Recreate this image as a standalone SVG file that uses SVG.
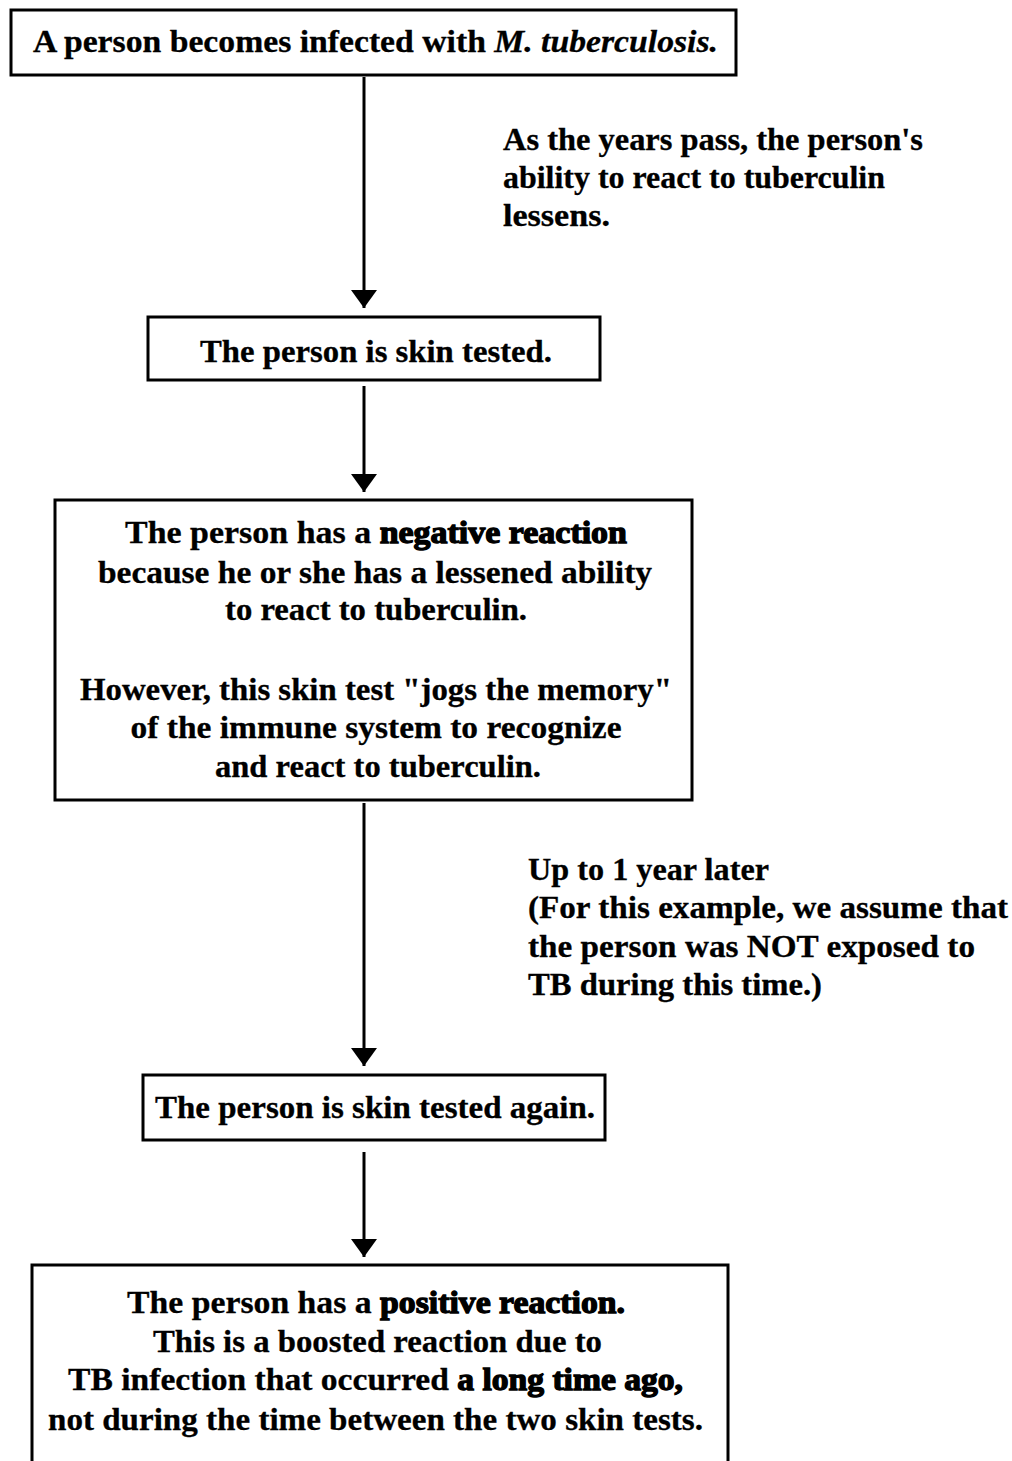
<svg xmlns="http://www.w3.org/2000/svg" width="1012" height="1461" viewBox="0 0 1012 1461">
<style>
text{font-family:"Liberation Serif","Times New Roman",serif;font-size:31px;font-weight:bold;fill:#000;stroke:#000;stroke-width:0.3}
.c{text-anchor:middle}
.b{stroke-width:1.3}
.box{fill:#fff;stroke:#000;stroke-width:3}
.conn{stroke:#000;stroke-width:3;fill:none}
</style>
<defs>
<marker id="ah" markerUnits="userSpaceOnUse" markerWidth="18" markerHeight="26" refX="18" refY="13" orient="auto" viewBox="0 0 18 26">
<path d="M0,0 L18,13 L0,26 Z" fill="#000"/>
</marker>
</defs>
<rect width="1012" height="1461" fill="#fff"/>
<g id="connectors">
<line class="conn" x1="364" y1="77" x2="364" y2="308" marker-end="url(#ah)"/>
<line class="conn" x1="364" y1="386" x2="364" y2="492" marker-end="url(#ah)"/>
<line class="conn" x1="364" y1="803" x2="364" y2="1066" marker-end="url(#ah)"/>
<line class="conn" x1="364" y1="1152" x2="364" y2="1257" marker-end="url(#ah)"/>
</g>
<g id="node1">
<rect class="box" x="11" y="10" width="725" height="65"/>
<text class="c" x="375.5" y="52" textLength="685" lengthAdjust="spacingAndGlyphs">A person becomes infected with <tspan font-style="italic">M. tuberculosis.</tspan></text>
</g>
<g id="label1">
<text x="503" y="150" textLength="420" lengthAdjust="spacingAndGlyphs">As the years pass, the person's</text>
<text x="503" y="188" textLength="382" lengthAdjust="spacingAndGlyphs">ability to react to tuberculin</text>
<text x="503" y="226" textLength="107" lengthAdjust="spacingAndGlyphs">lessens.</text>
</g>
<g id="node2">
<rect class="box" x="148" y="317" width="452" height="63"/>
<text class="c" x="376" y="362" textLength="352" lengthAdjust="spacingAndGlyphs">The person is skin tested.</text>
</g>
<g id="node3">
<rect class="box" x="55" y="500" width="637" height="300"/>
<text class="c" x="376" y="543" textLength="502" lengthAdjust="spacingAndGlyphs">The person has a <tspan class="b">negative reaction</tspan></text>
<text class="c" x="375" y="583" textLength="554" lengthAdjust="spacingAndGlyphs">because he or she has a lessened ability</text>
<text class="c" x="376" y="620" textLength="302" lengthAdjust="spacingAndGlyphs">to react to tuberculin.</text>
<text class="c" x="376" y="700" textLength="592" lengthAdjust="spacingAndGlyphs">However, this skin test "jogs the memory"</text>
<text class="c" x="376" y="738" textLength="491" lengthAdjust="spacingAndGlyphs">of the immune system to recognize</text>
<text class="c" x="378" y="777" textLength="326" lengthAdjust="spacingAndGlyphs">and react to tuberculin.</text>
</g>
<g id="label2">
<text x="528" y="880" textLength="241" lengthAdjust="spacingAndGlyphs">Up to 1 year later</text>
<text x="528" y="918" textLength="480" lengthAdjust="spacingAndGlyphs">(For this example, we assume that</text>
<text x="528" y="957" textLength="447" lengthAdjust="spacingAndGlyphs">the person was NOT exposed to</text>
<text x="528" y="995" textLength="294" lengthAdjust="spacingAndGlyphs">TB during this time.)</text>
</g>
<g id="node4">
<rect class="box" x="143" y="1075" width="462" height="65"/>
<text class="c" x="375" y="1118" textLength="440" lengthAdjust="spacingAndGlyphs">The person is skin tested again.</text>
</g>
<g id="node5">
<rect class="box" x="32" y="1265" width="696" height="210"/>
<text class="c" x="376" y="1313" textLength="498" lengthAdjust="spacingAndGlyphs">The person has a <tspan class="b">positive reaction.</tspan></text>
<text class="c" x="377.5" y="1352" textLength="449" lengthAdjust="spacingAndGlyphs">This is a boosted reaction due to</text>
<text class="c" x="375.5" y="1390" textLength="615" lengthAdjust="spacingAndGlyphs">TB infection that occurred <tspan class="b">a long time ago,</tspan></text>
<text class="c" x="375.5" y="1430" textLength="655" lengthAdjust="spacingAndGlyphs">not during the time between the two skin tests.</text>
</g>
</svg>
